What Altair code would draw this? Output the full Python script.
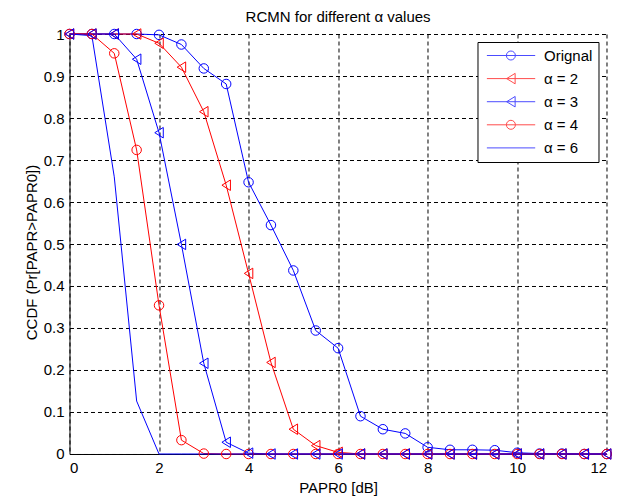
import altair as alt
import pandas as pd

# ---- data ----
x_vals = [0, 0.5, 1, 1.5, 2, 2.5, 3, 3.5, 4, 4.5, 5, 5.5, 6, 6.5, 7, 7.5, 8, 8.5, 9, 9.5, 10, 10.5, 11, 11.5, 12]
orig = [1, 1, 1, 1, 0.998, 0.975, 0.918, 0.881, 0.647, 0.545, 0.437, 0.294, 0.252, 0.090, 0.059, 0.049, 0.016, 0.010, 0.010, 0.009, 0.003, 0.001, 0.001, 0.0, 0.0]
a2 = [1, 1, 1, 1, 0.978, 0.921, 0.815, 0.640, 0.430, 0.218, 0.059, 0.020, 0.004, 0, 0, 0, 0, 0, 0, 0, 0, 0, 0, 0, 0]
a3 = [1, 1, 1, 0.940, 0.765, 0.499, 0.216, 0.028, 0.002, 0, 0, 0, 0, 0, 0, 0, 0, 0, 0, 0, 0, 0, 0, 0, 0]
a4 = [1, 1, 0.954, 0.724, 0.354, 0.033, 0.001, 0, 0, 0, 0, 0, 0, 0, 0, 0, 0, 0, 0, 0, 0, 0, 0, 0, 0]
a6 = [1, 0.996, 0.66, 0.126, 0, 0, 0, 0, 0, 0, 0, 0, 0, 0, 0, 0, 0, 0, 0, 0, 0, 0, 0, 0, 0]

names = ["Orignal", "α = 2", "α = 3", "α = 4", "α = 6"]
series_vals = [orig, a2, a3, a4, a6]
colors = ["#0000FF", "#FF0000", "#0000FF", "#FF0000", "#0000FF"]
circle_series = ["Orignal", "α = 4"]
tri_series = ["α = 2", "α = 3"]

x_ticks = [0, 2, 4, 6, 8, 10, 12]
y_ticks = [0, 0.1, 0.2, 0.3, 0.4, 0.5, 0.6, 0.7, 0.8, 0.9, 1]

rows = []
for name, vals in zip(names, series_vals):
    for xv, yv in zip(x_vals, vals):
        rows.append({"x": xv, "y": yv, "series": name})
df = pd.DataFrame(rows)

FONT = "Liberation Sans"


def circ(cx, r):
    k = 0.5523 * r
    f = lambda v: f"{v:.3f}"
    return (f"M{f(cx + r)} 0 C{f(cx + r)} {f(k)} {f(cx + k)} {f(r)} {f(cx)} {f(r)} "
            f"C{f(cx - k)} {f(r)} {f(cx - r)} {f(k)} {f(cx - r)} 0 "
            f"C{f(cx - r)} {f(-k)} {f(cx - k)} {f(-r)} {f(cx)} {f(-r)} "
            f"C{f(cx + k)} {f(-r)} {f(cx + r)} {f(-k)} {f(cx + r)} 0 Z")


tri_path = "M-0.85 0 L0.85 -1.05 L0.85 1.05 Z"
leg_line = "M-0.82 0 L8.84 0"
leg_circle = leg_line + " " + circ(3.98, 0.9)
leg_tri = leg_line + " M3.13 0 L4.83 -1.05 L4.83 1.05 Z"
legend_shapes = [leg_circle, leg_tri, leg_tri, leg_circle, leg_line]

color_scale = alt.Scale(domain=names, range=colors)

leg_props = dict(title=None, orient="top-right", offset=8,
                 padding=6, symbolSize=100, symbolStrokeWidth=1,
                 symbolFillColor="transparent",
                 labelOffset=45.5, rowPadding=7.1, labelFont=FONT, labelFontSize=15,
                 labelColor="black", strokeColor="black", fillColor="white")


def color_enc():
    return alt.Color("series:N", scale=color_scale, legend=alt.Legend(**leg_props))


x_enc = alt.X("x:Q", scale=alt.Scale(domain=[0, 12], nice=False, zero=False),
              axis=alt.Axis(values=x_ticks, format="d", title="PAPR0 [dB]",
                            labelPadding=7, titleY=38.7, titleBaseline="alphabetic"))
y_enc = alt.Y("y:Q", scale=alt.Scale(domain=[0, 1], nice=False),
              axis=alt.Axis(values=y_ticks, format=".1~f", title="CCDF  (Pr[PAPR>PAPR0])",
                            labelPadding=5.5, titleX=-32.5, titleY=218, titleAngle=270,
                            titleBaseline="alphabetic", titleAlign="center"))

base = alt.Chart(df)

# legend-only layer: empty after the filter; its scales give the legend
legend_layer = base.transform_filter("datum.x < -100").mark_point(
    filled=False, strokeWidth=1
).encode(
    x=x_enc, y=y_enc,
    color=color_enc(),
    shape=alt.Shape("series:N", scale=alt.Scale(domain=names, range=legend_shapes),
                    legend=alt.Legend(**leg_props)),
)

lines = base.mark_line(strokeWidth=1).encode(
    x=x_enc, y=y_enc, color=color_enc(),
)

circles = base.transform_filter(
    alt.FieldOneOfPredicate(field="series", oneOf=circle_series)
).mark_point(shape="circle", filled=False, size=90, strokeWidth=1, opacity=1).encode(
    x="x:Q", y="y:Q", color=color_enc(),
)

tris = base.transform_filter(
    alt.FieldOneOfPredicate(field="series", oneOf=tri_series)
).mark_point(shape=tri_path, filled=False, size=100, strokeWidth=1, opacity=1).encode(
    x="x:Q", y="y:Q", color=color_enc(),
)

chart = alt.layer(legend_layer, lines, circles, tris).properties(
    width=537.2, height=420,
    title=alt.TitleParams("RCMN for different α values", font=FONT, fontSize=15,
                          fontWeight="normal", color="black", anchor="middle", offset=2),
    autosize=alt.AutoSizeParams(type="none"),
    padding={"left": 61.5, "top": 26, "right": 5, "bottom": 43},
).configure_view(stroke=None).configure_axis(
    domainColor="black", domainWidth=1, gridColor="black", gridDash=[4, 3],
    gridOpacity=1, gridWidth=1, tickSize=0, labelFont=FONT, labelFontSize=15,
    labelColor="black", titleFont=FONT, titleFontSize=15, titleFontWeight="normal",
    titleColor="black",
)

chart.save("out.html", embed_options={"renderer": "svg", "actions": False})
